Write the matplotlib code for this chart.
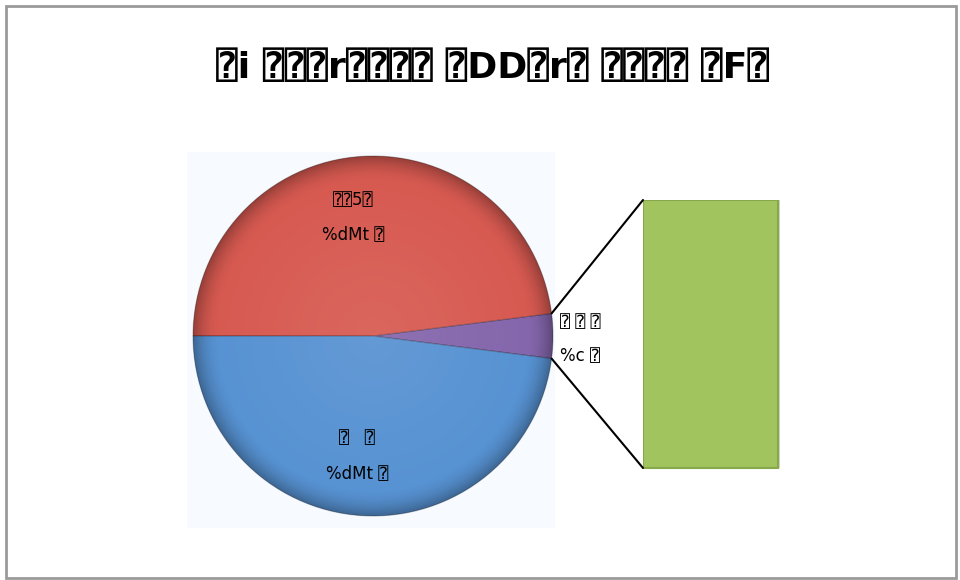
import numpy as np
import matplotlib
matplotlib.use("Agg")
import matplotlib.pyplot as plt
from matplotlib.patches import Rectangle, Circle
from matplotlib.patches import ConnectionPatch

plt.rcParams['font.family'] = ['DejaVu Sans', 'DejaVu Sans Mono']

# Data
title = "⍰i ⍰⍰⍰r⍰⍰⍰⍰ ⍰DD⍰r⍰ ⍰⍰⍰⍰ ⍰F⍰"
slice_values = [4, 48, 48]                 # other, top, bottom
slice_names = ["⍰ ⍰ ⍰", "⍰⍰5⍰", "⍰   ⍰"]
slice_pct_text = ["%c ⍰", "%dMt ⍰", "%dMt ⍰"]
slice_colors = ["#8466AC", "#D75A51", "#5792D2"]
bar_values = [4]
bar_colors = ["#A2C45E"]

W, H = 960, 580
fig = plt.figure(figsize=(W / 100, H / 100), dpi=100)
fig.patch.set_facecolor("white")

def fx(x):
    return x / W

def fy(y):
    return 1 - y / H

# outer frame
fig.add_artist(Rectangle((fx(6), fy(578)), fx(950), (572) / H, transform=fig.transFigure,
                         fill=False, edgecolor="#9a9a9a", linewidth=2))
# pale plot-area panel behind the pie
fig.add_artist(Rectangle((fx(187), fy(528)), fx(368), 376 / H, transform=fig.transFigure,
                         facecolor="#F7FAFE", edgecolor="none", zorder=0))

fig.text(fx(493), fy(68), title, ha="center", va="center", fontsize=26, fontweight="bold")

# pie axes
cx, cy, r = 373, 336, 180
ax = fig.add_axes([fx(cx - r), fy(cy + r), 2 * r / W, 2 * r / H])
ax.patch.set_alpha(0)

start = -360 * slice_values[0] / sum(slice_values) / 2
wedges, _ = ax.pie(slice_values, colors=slice_colors, startangle=start, counterclock=True,
                   radius=1.0, wedgeprops=dict(linewidth=0.8, edgecolor=(0, 0, 0, 0.25)))

# darker rim shading over the pie
n = 400
xs = np.linspace(-1, 1, n)
X, Y = np.meshgrid(xs, xs)
R = np.sqrt(X ** 2 + Y ** 2)
shade = np.zeros((n, n, 4))
shade[..., 3] = np.clip((R - 0.85) / 0.15, 0, 1) ** 2 * 0.30
im = ax.imshow(shade, extent=(-1, 1, -1, 1), origin="lower", zorder=3)
im.set_clip_path(Circle((0, 0), 1.0, transform=ax.transData))
# soft highlight near the centre
hl = np.ones((n, n, 4))
hl[..., 3] = np.clip(1 - R / 0.9, 0, 1) * 0.08
im2 = ax.imshow(hl, extent=(-1, 1, -1, 1), origin="lower", zorder=3)
im2.set_clip_path(Circle((0, 0), 1.0, transform=ax.transData))
ax.set_xlim(-1, 1)
ax.set_ylim(-1, 1)
ax.set_aspect("equal")
ax.axis("off")

# labels
total = sum(slice_values)
angles = []
a0 = start
for v in slice_values:
    a1 = a0 + 360 * v / total
    angles.append((a0 + a1) / 2)
    a0 = a1

label_shift = {1: 6, 2: -4}   # nudge the inside labels slightly to the left
for i in (1, 2):
    th = np.deg2rad(angles[i] + label_shift[i])
    lx, ly = 0.67 * np.cos(th), 0.67 * np.sin(th)
    ax.text(lx, ly + 0.095, slice_names[i], ha="center", va="center", fontsize=12, zorder=5)
    ax.text(lx, ly - 0.095, slice_pct_text[i], ha="center", va="center", fontsize=12, zorder=5)

ax.text(1.04, 0.08, slice_names[0], ha="left", va="center", fontsize=12, zorder=5, clip_on=False)
ax.text(1.04, -0.11, slice_pct_text[0], ha="left", va="center", fontsize=12, zorder=5, clip_on=False)

# bar of the split-off slice
bax = fig.add_axes([fx(643), fy(470), 140 / W, 270 / H])
bottom = 0
for v, c in zip(bar_values, bar_colors):
    bax.bar(0.02, v, bottom=bottom, width=1.0, color="#7E8F60", alpha=0.35,
            edgecolor="none", zorder=1)
    bax.bar(0, v, bottom=bottom, width=1.0, color=c, edgecolor="#88A84C", linewidth=1.5, zorder=2)
    bottom += v
bax.set_xlim(-0.5, 0.54)
bax.set_ylim(-0.03, sum(bar_values))
bax.axis("off")

# connectors from the split slice edges to the bar corners
t_top = np.deg2rad(start + 360 * slice_values[0] / total)
t_bot = np.deg2rad(start)
for (px, py), (qx, qy) in [((np.cos(t_top), np.sin(t_top)), (-0.5, sum(bar_values))),
                           ((np.cos(t_bot), np.sin(t_bot)), (-0.5, 0))]:
    con = ConnectionPatch(xyA=(px, py), coordsA=ax.transData, xyB=(qx, qy), coordsB=bax.transData,
                          color="black", linewidth=1.5)
    fig.add_artist(con)

fig.savefig("out.png", dpi=100, facecolor="white")
